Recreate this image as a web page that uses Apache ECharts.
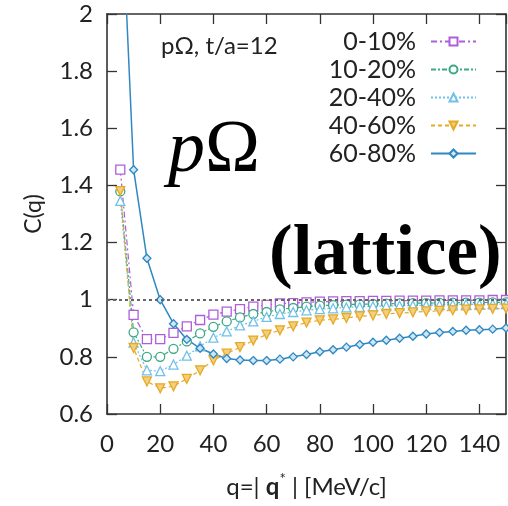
<!DOCTYPE html>
<html><head><meta charset="utf-8">
<script src="https://cdn.jsdelivr.net/npm/echarts@6/dist/echarts.min.js"></script>
<style>html,body{margin:0;padding:0;background:#fff}#c{width:508px;height:506px}</style>
</head><body><div id="c"></div>
<script>
// ---- data ----
const q = [5,10,15,20,25,30,35,40,45,50,55,60,65,70,75,80,85,90,95,100,105,110,115,120,125,130,135,140,145,150];
const c0_10  = [1.455,0.947,0.862,0.862,0.884,0.907,0.929,0.948,0.958,0.967,0.976,0.982,0.987,0.988,0.991,0.993,0.994,0.995,0.995,0.996,0.996,0.997,0.997,0.997,0.998,0.998,0.998,0.998,0.999,0.999];
const c10_20 = [1.379,0.886,0.800,0.800,0.828,0.854,0.882,0.905,0.924,0.938,0.950,0.957,0.966,0.971,0.976,0.979,0.981,0.983,0.984,0.985,0.986,0.987,0.988,0.988,0.989,0.990,0.990,0.990,0.991,0.991];
const c20_40 = [1.346,0.850,0.753,0.750,0.773,0.804,0.837,0.867,0.889,0.910,0.924,0.940,0.950,0.957,0.963,0.967,0.970,0.973,0.975,0.977,0.978,0.979,0.980,0.981,0.982,0.983,0.984,0.984,0.985,0.985];
const c40_60 = [1.380,0.831,0.714,0.690,0.697,0.723,0.753,0.788,0.811,0.834,0.857,0.878,0.893,0.907,0.920,0.928,0.931,0.936,0.942,0.945,0.950,0.953,0.956,0.959,0.961,0.963,0.965,0.966,0.968,0.969];
const c60_80 = [2.500,1.455,1.145,1.000,0.916,0.861,0.830,0.810,0.794,0.789,0.787,0.787,0.792,0.800,0.808,0.818,0.825,0.834,0.843,0.851,0.858,0.865,0.872,0.880,0.885,0.889,0.893,0.895,0.897,0.901];
const seriesNames = ['0-10%','10-20%','20-40%','40-60%','60-80%'];
const refLevel = 1;
const xMin = 0, xMax = 150, xStep = 20;
const yMin = 0.6, yMax = 2, yStep = 0.2;
const titleText = 'pΩ, t/a=12';
const xName = '{n|q=| }{b|q}{s|*}{n| | [MeV/c]}';
const yName = 'C(q)';

// ---- chart ----
const FONT = 'Lato';
const TXT = '#222';
const AX = '#333';
const chart = echarts.init(document.getElementById('c'), null, {renderer:'canvas'});

function mk(name, vals, color, symbol, size, dash, fill, rotate, width) {
  return {
    name, type: 'line', data: q.map((x, i) => [x, vals[i]]),
    symbol, symbolSize: size, symbolRotate: rotate || 0, showSymbol: true, clip: true, z: 3,
    lineStyle: { color, width: width || 1.2, type: dash },
    itemStyle: { color: fill, borderColor: color, borderWidth: 1.3 },
    emphasis: { disabled: true }
  };
}
const axisCommonX = {
  type: 'value', min: xMin, max: xMax, interval: xStep,
  axisLine: { show: true, onZero: false, lineStyle: { color: AX, width: 1.6 } },
  axisTick: { show: true, inside: true, length: 10, lineStyle: { color: AX, width: 1.3 } },
  splitLine: { show: false }
};
const axisCommonY = {
  type: 'value', min: yMin, max: yMax, interval: yStep,
  axisLine: { show: true, onZero: false, lineStyle: { color: AX, width: 1.6 } },
  axisTick: { show: true, inside: true, length: 10, lineStyle: { color: AX, width: 1.3 } },
  splitLine: { show: false }
};
const option = {
  animation: false,
  backgroundColor: '#fff',
  grid: { left: 107, right: 2, top: 14, bottom: 92, containLabel: false },
  xAxis: [
    Object.assign({}, axisCommonX, {
      position: 'bottom',
      axisLabel: { show: true, margin: 18, fontFamily: FONT, fontSize: 24, color: TXT, showMaxLabel: false },
      name: xName, nameLocation: 'middle', nameGap: 58,
      nameTextStyle: { rich: {
        n: { fontFamily: FONT, fontSize: 24, color: TXT },
        b: { fontFamily: FONT, fontSize: 24, color: TXT, fontWeight: 'bold' },
        s: { fontFamily: FONT, fontSize: 15, color: TXT, verticalAlign: 'top', lineHeight: 30 }
      } }
    }),
    Object.assign({}, axisCommonX, { position: 'top', axisLabel: { show: false } })
  ],
  yAxis: [
    Object.assign({}, axisCommonY, {
      position: 'left',
      axisLabel: { show: true, margin: 14, fontFamily: FONT, fontSize: 24, color: TXT },
      name: yName, nameLocation: 'middle', nameGap: 62, nameRotate: 90,
      nameTextStyle: { fontFamily: FONT, fontSize: 23, color: TXT }
    }),
    Object.assign({}, axisCommonY, { position: 'right', axisLabel: { show: false } })
  ],
  legend: {
    data: seriesNames, orient: 'vertical', align: 'right', right: 26, top: 24,
    itemWidth: 45, itemHeight: 10, itemGap: 3,
    textStyle: { fontFamily: FONT, fontSize: 25, color: TXT, lineHeight: 25, padding: [0, 10, 0, 0] },
    selectedMode: false
  },
  series: [
    mk(seriesNames[0], c0_10, '#b05ddb', 'rect', 9, [6, 3, 2, 3], '#fff'),
    mk(seriesNames[1], c10_20, '#3aa985', 'circle', 9, [5, 2, 2, 2], '#fff'),
    mk(seriesNames[2], c20_40, '#72c0ea', 'triangle', 9, [2, 2], '#fff'),
    mk(seriesNames[3], c40_60, '#e7a926', 'triangle', 9, [4, 3], '#f2cf7c', 180),
    mk(seriesNames[4], c60_80, '#2f88c2', 'diamond', 8, 'solid', '#cfe6f5', 0, 1.5),
    { name: 'ref', type: 'line', data: [], z: 1, silent: true,
      markLine: { symbol: 'none', silent: true, label: { show: false },
        lineStyle: { color: '#666', width: 2.2, type: [3, 3] },
        data: [{ yAxis: refLevel }] } }
  ],
  graphic: [
    { type: 'text', left: 161, top: 34, z: 10,
      style: { text: titleText, fontFamily: FONT, fontSize: 24, fill: TXT } },
    { type: 'text', left: 168, top: 115, z: 10,
      style: { text: '{i|p}{r|Ω}', rich: {
        i: { fontFamily: 'Liberation Serif', fontStyle: 'italic', fontSize: 74, fill: '#000' },
        r: { fontFamily: 'Liberation Serif', fontSize: 74, fill: '#000' } } } },
    { type: 'text', left: 269, top: 220, z: 10,
      style: { text: '(lattice)', fontFamily: 'Liberation Serif', fontWeight: 'bold', fontSize: 71, fill: '#000' } }
  ]
};
chart.setOption(option);
</script>
</body></html>
